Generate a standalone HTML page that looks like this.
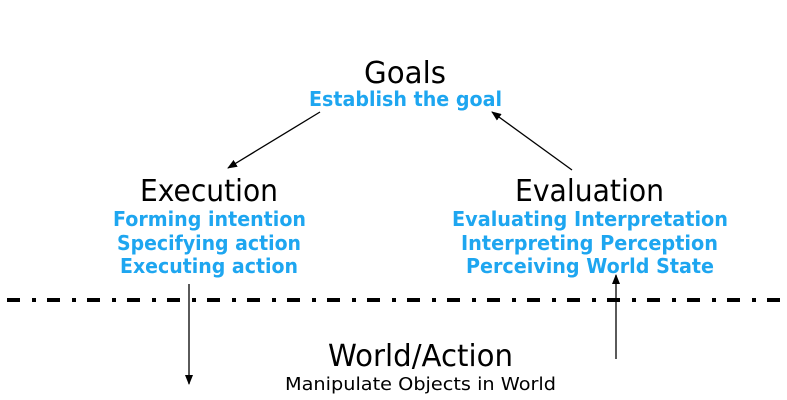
<!DOCTYPE html>
<html><head><style>html,body{margin:0;padding:0;background:#fff;}svg{display:block}</style></head>
<body>
<svg width="787" height="400" xmlns="http://www.w3.org/2000/svg" font-family="'DejaVu Sans','Liberation Sans',sans-serif">
<defs>
<marker id="a" markerWidth="10" markerHeight="8" refX="9" refY="4" orient="auto" markerUnits="userSpaceOnUse">
<path d="M0,0 L10,4 L0,8 Z" fill="#000"/></marker>
</defs>
<g fill="#000">
<text x="364" y="83" font-size="30" textLength="82" lengthAdjust="spacingAndGlyphs">Goals</text>
<text x="140" y="201" font-size="30" textLength="138" lengthAdjust="spacingAndGlyphs">Execution</text>
<text x="515" y="201" font-size="30" textLength="149" lengthAdjust="spacingAndGlyphs">Evaluation</text>
<text x="328" y="366" font-size="30" textLength="185" lengthAdjust="spacingAndGlyphs">World/Action</text>
<text x="285" y="390" font-size="18" textLength="271" lengthAdjust="spacingAndGlyphs">Manipulate Objects in World</text>
</g>
<g fill="#1ea6f0" font-weight="bold" font-size="20">
<text x="309" y="106" textLength="193" lengthAdjust="spacingAndGlyphs">Establish the goal</text>
<text x="113" y="226" textLength="193" lengthAdjust="spacingAndGlyphs">Forming intention</text>
<text x="117" y="250" textLength="184" lengthAdjust="spacingAndGlyphs">Specifying action</text>
<text x="120" y="273" textLength="178" lengthAdjust="spacingAndGlyphs">Executing action</text>
<text x="452" y="226" textLength="276" lengthAdjust="spacingAndGlyphs">Evaluating Interpretation</text>
<text x="461" y="250" textLength="257" lengthAdjust="spacingAndGlyphs">Interpreting Perception</text>
<text x="466" y="273" textLength="248" lengthAdjust="spacingAndGlyphs">Perceiving World State</text>
</g>
<line x1="7" y1="300" x2="787" y2="300" stroke="#000" stroke-width="4" stroke-dasharray="13 12 4 11"/>
<g stroke="#000" stroke-width="1.3">
<line x1="320" y1="112" x2="228" y2="168" marker-end="url(#a)"/>
<line x1="572" y1="170" x2="492" y2="112" marker-end="url(#a)"/>
<line x1="189" y1="284" x2="189" y2="384" marker-end="url(#a)"/>
<line x1="616" y1="359" x2="616" y2="275" marker-end="url(#a)"/>
</g>
</svg>
</body></html>
